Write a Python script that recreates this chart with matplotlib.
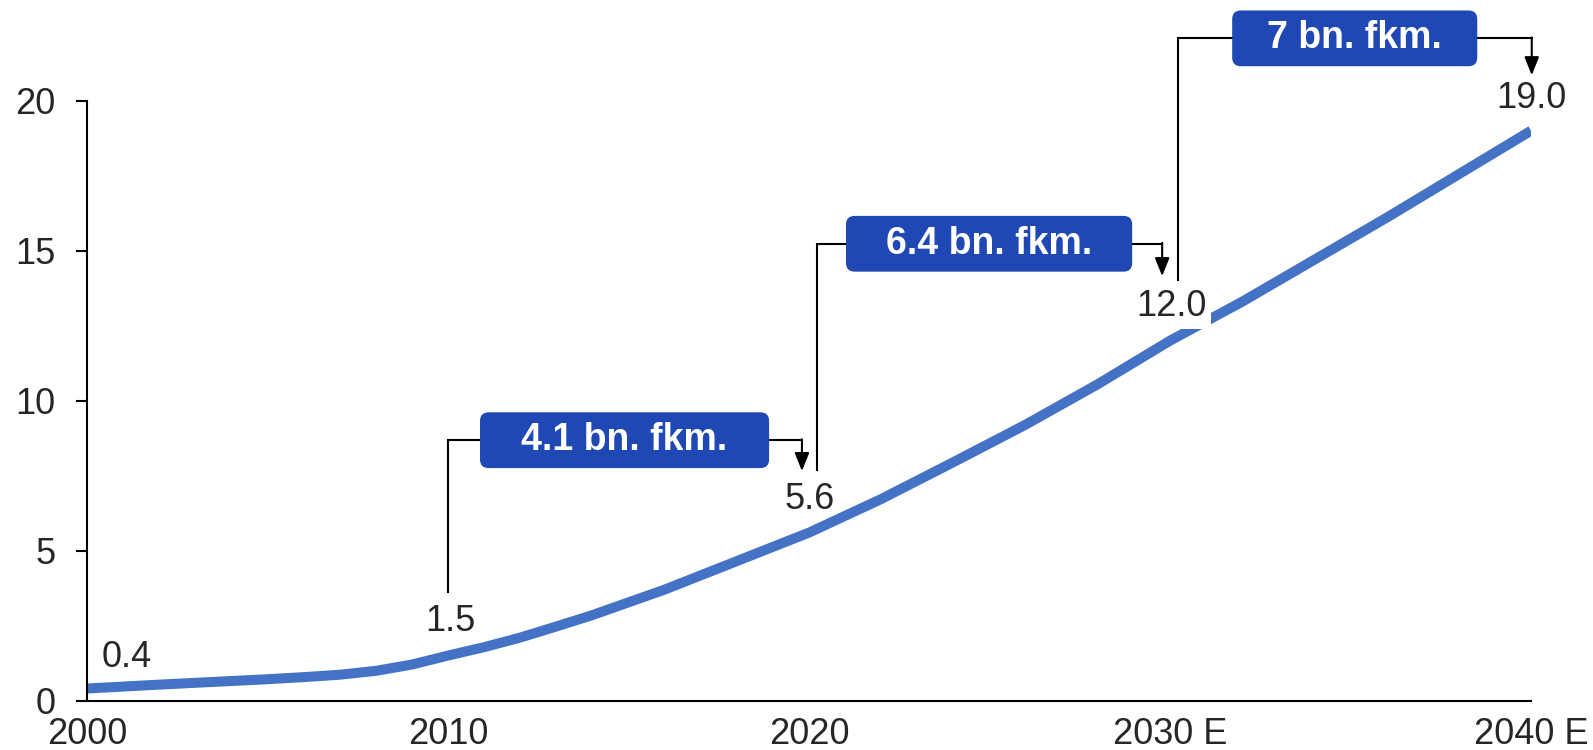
import matplotlib
matplotlib.use("Agg")
import matplotlib.pyplot as plt
from matplotlib.patches import FancyBboxPatch

plt.rcParams['font.family'] = ['Liberation Sans', 'DejaVu Sans']

# values
years = [2000, 2002, 2004, 2005, 2006, 2007, 2008, 2009, 2010, 2011, 2012, 2013,
         2014, 2016, 2018, 2020, 2022, 2024, 2026, 2028, 2030, 2032, 2034,
         2036, 2038, 2040]
values = [0.4, 0.53, 0.65, 0.71, 0.78, 0.86, 0.99, 1.2, 1.5, 1.78, 2.1, 2.47,
          2.85, 3.7, 4.65, 5.6, 6.72, 7.95, 9.2, 10.55, 12.0, 13.3, 14.7,
          16.1, 17.55, 19.0]

label_years = [2000, 2010, 2020, 2030, 2040]
label_values = [0.4, 1.5, 5.6, 12.0, 19.0]
tick_labels = ['2000', '2010', '2020', '2030 E', '2040 E']
gain_labels = ['4.1 bn. fkm.', '6.4 bn. fkm.', '7 bn. fkm.']

line_col = '#4472C4'
box_col = '#1F48B4'
txt_col = '#262626'

fig = plt.figure(figsize=(15.93, 7.5), dpi=100)
ax = fig.add_axes([0.0548, 0.066, 0.9063, 0.7997])

ax.plot(years, values, color=line_col, lw=7.2, solid_capstyle='butt',
        solid_joinstyle='round', zorder=2)

# value labels; only the 2030/2040 ones mask the line
offsets = [(1.1, 1.02), (0.05, 1.15), (0.0, 1.1), (0.04, 1.13), (0.0, 1.07)]
masks = [False, False, False, True, True]
for (yr, v), (dx, dy), m in zip(zip(label_years, label_values), offsets, masks):
    bb = dict(boxstyle='square,pad=0.12', fc='white', ec='none') if m else None
    ax.text(yr + dx, v + dy, f'{v:.1f}', ha='center', va='center', fontsize=26,
            color=txt_col, zorder=4, bbox=bb)

# brackets: (x of vertical, bottom of vertical, level, x of arrow, arrow tip, box x0, box x1, box half height)
brackets = [
    (2009.99, 3.62, 8.68, 2019.80, 7.65, 2010.88, 2018.89, 0.93),
    (2020.21, 7.67, 15.23, 2029.78, 14.15, 2021.02, 2028.95, 0.93),
    (2030.22, 14.02, 22.08, 2040.02, 20.85, 2031.72, 2038.51, 0.93),
]
for (xv, yb, yh, xa, ya, bx0, bx1, hh), lab in zip(brackets, gain_labels):
    ax.plot([xv, xv, xa], [yb, yh, yh], color='black', lw=1.5,
            solid_joinstyle='miter', clip_on=False, zorder=3)
    ax.annotate('', xy=(xa, ya), xytext=(xa, yh + 0.03),
                arrowprops=dict(arrowstyle='-|>,head_length=0.55,head_width=0.22',
                                color='black', lw=1.5, shrinkA=0, shrinkB=0,
                                mutation_scale=20),
                annotation_clip=False, zorder=3)
    box = FancyBboxPatch((bx0, yh - hh), bx1 - bx0, 2 * hh,
                         boxstyle='round,pad=0,rounding_size=0.24',
                         mutation_aspect=1.2, fc=box_col, ec='none',
                         clip_on=False, zorder=5)
    ax.add_patch(box)
    ax.text((bx0 + bx1) / 2, yh, lab, ha='center', va='center', fontsize=27,
            fontweight='bold', color='white', zorder=6)

ax.set_xlim(2000, 2040)
ax.set_ylim(0, 20)
ax.set_xticks(label_years)
ax.set_xticklabels(tick_labels)
ax.set_yticks([0, 5, 10, 15, 20])
ax.tick_params(axis='x', length=0, pad=12, labelsize=26, labelcolor=txt_col)
ax.tick_params(axis='y', length=8, width=1.5, pad=15, labelsize=26, labelcolor=txt_col)
for s in ['top', 'right']:
    ax.spines[s].set_visible(False)
for s in ['left', 'bottom']:
    ax.spines[s].set_linewidth(1.5)

fig.savefig('out.png', dpi=100)
